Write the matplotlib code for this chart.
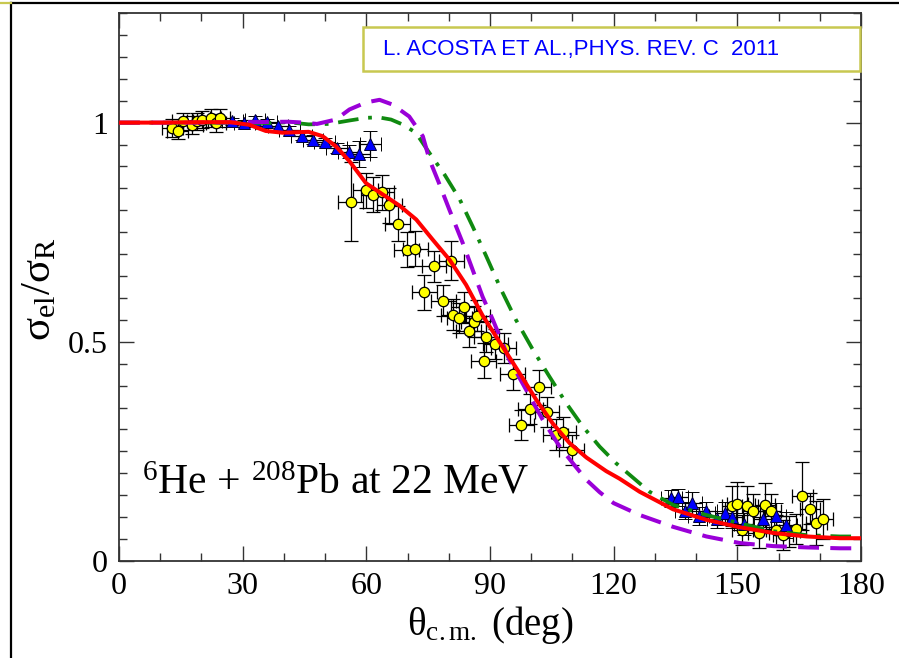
import matplotlib
matplotlib.use("Agg")
import matplotlib.pyplot as plt
from matplotlib.patches import Rectangle
from matplotlib.lines import Line2D
from matplotlib.ticker import MultipleLocator

plt.rcParams['font.family'] = ['Liberation Serif', 'DejaVu Serif']
plt.rcParams['mathtext.fontset'] = 'custom'
plt.rcParams['mathtext.rm'] = 'Liberation Serif'
plt.rcParams['mathtext.it'] = 'Liberation Serif:italic'
plt.rcParams['mathtext.bf'] = 'Liberation Serif:bold'

# yellow circles (data set 1)
yel_th = [12.9, 14.2, 15.4, 17.8, 19.0, 20.2, 22.3, 23.5, 24.5,
          56.2, 59.8, 61.7, 63.7, 65.6, 67.6, 69.8, 71.9, 74.1, 76.4,
          78.7, 80.6, 81.1, 82.6, 83.6, 84.8, 86.0, 86.9, 88.5, 89.1,
          91.3, 93.3, 95.5, 97.6, 99.8, 101.8, 103.8, 105.9, 107.8, 109.8,
          148.7, 150.0, 151.2, 152.4, 153.9, 155.2, 156.7, 158.1, 159.5,
          161.1, 162.6, 164.2, 165.8, 167.6, 169.2, 170.7]
yel_y = [0.988, 0.982, 1.003, 0.995, 1.003, 1.007, 1.011, 0.999, 1.011,
         0.820, 0.846, 0.836, 0.841, 0.811, 0.769, 0.710, 0.712, 0.613, 0.672,
         0.594, 0.685, 0.562, 0.554, 0.579, 0.524, 0.546, 0.560, 0.457, 0.512,
         0.495, 0.486, 0.426, 0.310, 0.347, 0.396, 0.340, 0.288, 0.294, 0.253,
         0.126, 0.130, 0.071, 0.126, 0.113, 0.065, 0.128, 0.113, 0.071,
         0.059, 0.068, 0.073, 0.148, 0.119, 0.086, 0.096]
yel_yerr = [0.02, 0.02, 0.02, 0.02, 0.02, 0.02, 0.02, 0.02, 0.02,
            0.09, 0.04, 0.04, 0.04, 0.04, 0.04, 0.04, 0.04, 0.04, 0.035,
            0.035, 0.044, 0.035, 0.035, 0.035, 0.035, 0.035, 0.035, 0.04, 0.035,
            0.035, 0.035, 0.035, 0.035, 0.035, 0.04, 0.035, 0.035, 0.035, 0.035,
            0.045, 0.05, 0.035, 0.045, 0.04, 0.035, 0.05, 0.04, 0.035,
            0.035, 0.035, 0.035, 0.078, 0.035, 0.05, 0.045]
yel_xerr = [2.5, 2.5, 2.5, 2.5, 2.5, 2.5, 2.5, 2.5, 2.5,
            3.0, 3.0, 3.0, 3.0, 3.0, 3.0, 3.0, 3.0, 3.0, 3.0,
            3.0, 3.0, 3.0, 3.0, 3.0, 3.0, 3.0, 3.0, 3.0, 3.0,
            3.0, 3.0, 3.0, 3.0, 3.0, 3.0, 3.0, 3.0, 3.0, 3.0,
            2.5, 2.5, 2.5, 2.5, 2.5, 2.5, 2.5, 2.5, 2.5,
            2.5, 2.5, 2.5, 2.5, 2.5, 2.5, 2.5]

# blue triangles (data set 2)
blu_th = [27.5, 30.4, 33.0, 35.8, 38.6, 41.3, 44.3, 47.1, 49.9, 52.8, 55.7, 58.3, 61.0,
          134.0, 135.6, 137.4, 139.0, 140.6, 142.5, 145.1, 147.1, 148.8, 151.6,
          156.3, 159.3, 161.9]
blu_y = [1.003, 0.999, 1.007, 1.001, 0.992, 0.984, 0.970, 0.961, 0.956, 0.942, 0.934, 0.929, 0.951,
         0.143, 0.145, 0.115, 0.132, 0.103, 0.115, 0.095, 0.110, 0.101, 0.084,
         0.096, 0.103, 0.082]
blu_yerr = [0.008, 0.008, 0.008, 0.008, 0.008, 0.008, 0.01, 0.01, 0.01, 0.012, 0.015, 0.03, 0.03,
            0.02, 0.02, 0.02, 0.025, 0.02, 0.02, 0.02, 0.025, 0.025, 0.025,
            0.03, 0.03, 0.03]
blu_xerr = [2.5, 2.5, 2.5, 2.5, 2.5, 2.5, 2.5, 2.5, 2.5, 2.5, 2.5, 2.5, 2.5,
            2.5, 2.5, 2.5, 2.5, 2.5, 2.5, 2.5, 2.5, 2.5, 2.5,
            2.5, 2.5, 2.5]

# calculations
red_th = [0, 10, 20, 27, 31.6, 35.6, 39.7, 43, 46, 49.4, 52.6, 55.9, 59.9, 64, 68, 72.1,
          76.1, 80.2, 84.2, 88.2, 92.3, 97.2, 101.2, 105.2, 109.3, 113.4, 118.2, 121.4,
          126.3, 134.4, 142.5, 150.6, 158.7, 166.8, 174.9, 180]
red_y = [1.0, 1.0, 1.001, 1.001, 0.995, 0.981, 0.977, 0.978, 0.979, 0.969, 0.946, 0.912,
         0.862, 0.836, 0.811, 0.779, 0.733, 0.687, 0.630, 0.560, 0.500, 0.428, 0.368,
         0.314, 0.269, 0.236, 0.205, 0.188, 0.158, 0.118, 0.094, 0.077, 0.064, 0.056,
         0.052, 0.052]

grn_th = [0, 20, 37, 41, 46, 51, 56, 60, 63, 66, 69, 72, 75, 79, 82.6, 85.8, 89.1, 92.7,
          96.3, 100.4, 104.4, 108.5, 112.5, 116.6, 120.6, 128.7, 134.4, 142.5, 150.6,
          158.7, 166.8, 174.9, 180]
grn_y = [1.0, 1.0, 0.999, 1.001, 0.996, 0.997, 1.005, 1.011, 1.012, 1.007, 0.995, 0.977,
         0.935, 0.881, 0.826, 0.763, 0.695, 0.619, 0.550, 0.482, 0.421, 0.360, 0.307,
         0.261, 0.223, 0.158, 0.128, 0.105, 0.086, 0.068, 0.059, 0.056, 0.056]

pur_th = [0, 20, 41, 45, 48, 52.6, 55.9, 59.9, 63.2, 66.4, 70.4, 73.7, 75.3, 77.5, 80.2,
          83.4, 85.8, 88.2, 90.7, 94.7, 98.8, 102.8, 106.9, 110.1, 113.4, 116.6, 120,
          126.3, 134.4, 142.5, 150.6, 158.7, 166.8, 174.9, 180]
pur_y = [1.0, 1.0, 1.002, 1.0, 0.997, 1.007, 1.030, 1.046, 1.052, 1.041, 1.014, 0.969,
         0.916, 0.865, 0.800, 0.725, 0.664, 0.603, 0.550, 0.459, 0.390, 0.322, 0.261,
         0.223, 0.185, 0.157, 0.132, 0.105, 0.078, 0.056, 0.041, 0.034, 0.031, 0.029,
         0.029]

fig = plt.figure(figsize=(8.99, 6.58), dpi=100)
ax = fig.add_axes([0.1324, 0.1474, 0.8253, 0.8328])

ax.errorbar(yel_th, yel_y, yerr=yel_yerr, xerr=yel_xerr, fmt='o', ms=7.5,
            mfc='#ffff00', mec='black', mew=0.9, ecolor='black', elinewidth=0.9,
            capsize=5, capthick=0.9, zorder=3)
ax.errorbar(blu_th, blu_y, yerr=blu_yerr, xerr=blu_xerr, fmt='^', ms=8.5,
            mfc='#0000ff', mec='#000033', mew=0.7, ecolor='black', elinewidth=0.9,
            capsize=5, capthick=0.9, zorder=3)

ax.plot(grn_th, grn_y, color='#108a10', lw=2.7, ls=(0, (5.5, 2.6, 1, 2.6)), zorder=4)
ax.plot(pur_th, pur_y, color='#9a00d8', lw=2.9, ls=(0, (5.2, 2.8)), zorder=4)
ax.plot(red_th, red_y, color='#ff0000', lw=2.9, zorder=5)

ax.set_xlim(0, 180)
ax.set_ylim(0, 1.25)
ax.xaxis.set_minor_locator(MultipleLocator(10))
ax.yaxis.set_minor_locator(MultipleLocator(0.05))
ax.set_xticks([0, 30, 60, 90, 120, 150, 180])
ax.set_xticklabels(['0', '30', '60', '90', '120', '150', '180'])
ax.set_yticks([0, 0.5, 1])
ax.set_yticklabels(['0', '0.5', '1'])
ax.tick_params(which='both', direction='in', top=True, right=True, width=1.0,
               color='#333333', labelsize=23)
ax.tick_params(which='major', length=11, pad=8)
ax.tick_params(which='minor', length=5.5)
for s in ax.spines.values():
    s.set_linewidth(1.3)
    s.set_color('#333333')

ax.set_xlabel(r'$\mathrm{\theta_{c.m.}}$ (deg)', fontsize=28, labelpad=2)
fig.text(0.045, 0.56, r'$\mathrm{\sigma_{el}/\sigma_{R}}$', rotation=90,
         fontsize=31, ha='center', va='center')

ax.text(5.6, 0.155, r'$^{6}$He + $^{208}$Pb at 22 MeV', fontsize=30,
        ha='left', va='baseline')

# reference box
fig.patches.append(Rectangle((0.4038, 0.8921), 0.5528, 0.0669, transform=fig.transFigure,
                             facecolor='white', edgecolor='#c8c850', lw=1.8, zorder=10))
fig.text(0.426, 0.925, 'L. ACOSTA ET AL.,PHYS. REV. C  2011', fontsize=16,
         family='Liberation Sans', color='#0000ff', va='center', ha='left', zorder=11)

# slide frame lines
fig.add_artist(Line2D([0.0125, 1.0], [0.995, 0.995], color='black', lw=1.6))
fig.add_artist(Line2D([0.0125, 0.0125], [0.0, 0.995], color='black', lw=1.6))
fig.add_artist(Line2D([0.0, 0.0125], [0.995, 0.995], color='#c8c850', lw=1.6))

fig.savefig('out.png', dpi=100)
